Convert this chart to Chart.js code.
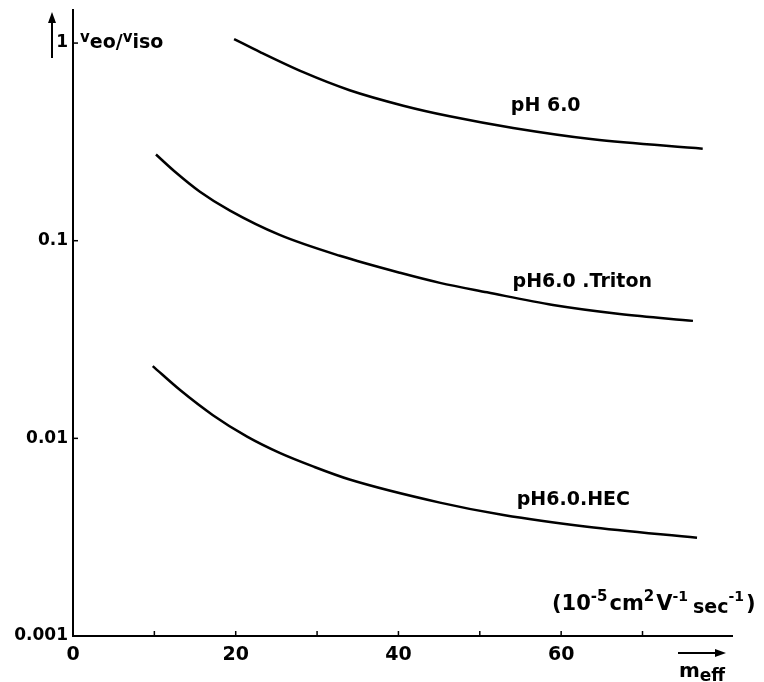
<!DOCTYPE html>
<html>
<head>
<meta charset="utf-8">
<script src="https://cdn.jsdelivr.net/npm/chart.js@4/dist/chart.umd.min.js"></script>
<style>
  body { margin: 0; background: #fff; }
  canvas { display: block; }
</style>
</head>
<body>
<canvas id="chart" width="764" height="682"></canvas>
<script>
// values (x = m_eff, y = v_eo/v_iso)
const xPH6 = [19.8, 23, 28.3, 34, 40.6, 46.3, 54.1, 63.9, 77.4];
const yPH6 = [1.048, 0.90, 0.712, 0.577, 0.482, 0.426, 0.372, 0.326, 0.292];

const xTriton = [10.2, 12.5, 15.6, 19.3, 25.4, 32.8, 40.2, 45.1, 50.9, 59, 67.2, 76.2];
const yTriton = [0.273, 0.224, 0.177, 0.142, 0.107, 0.0839, 0.0688, 0.0612, 0.0548, 0.0473, 0.0426, 0.0393];

const xHEC = [9.8, 13.2, 17.2, 21.4, 25.4, 29.5, 34, 45.1, 52.9, 63.2, 76.7];
const yHEC = [0.0232, 0.0175, 0.0131, 0.0102, 0.00844, 0.00721, 0.00619, 0.00473, 0.00409, 0.00357, 0.00314];

const curveNames = ["pH 6.0", "pH6.0 .Triton", "pH6.0.HEC"];

// tick values and labels
const xTickValues = [0, 10, 20, 30, 40, 50, 60, 70];
const xTickLabels = ["0", "", "20", "", "40", "", "60", ""];
const yTickValues = [0.001, 0.01, 0.1, 1];
const yTickLabels = ["0.001", "0.01", "0.1", "1"];

const FONT = '"DejaVu Sans", sans-serif';

function toPoints(xs, ys) {
  return xs.map((x, i) => ({ x: x, y: ys[i] }));
}

// draw a run of text pieces: [text, size, dy, gap]
function drawRich(ctx, x, y, parts) {
  parts.forEach(p => {
    ctx.font = "bold " + p[1] + "px " + FONT;
    ctx.fillText(p[0], x, y + p[2]);
    x += ctx.measureText(p[0]).width + (p[3] || 0);
  });
  return x;
}

function arrow(ctx, x1, y1, x2, y2) {
  const a = Math.atan2(y2 - y1, x2 - x1);
  ctx.beginPath();
  ctx.moveTo(x1, y1);
  ctx.lineTo(x2 - 8 * Math.cos(a), y2 - 8 * Math.sin(a));
  ctx.lineWidth = 2;
  ctx.stroke();
  ctx.beginPath();
  ctx.moveTo(x2, y2);
  ctx.lineTo(x2 - 11 * Math.cos(a) + 4 * Math.sin(a), y2 - 11 * Math.sin(a) - 4 * Math.cos(a));
  ctx.lineTo(x2 - 11 * Math.cos(a) - 4 * Math.sin(a), y2 - 11 * Math.sin(a) + 4 * Math.cos(a));
  ctx.closePath();
  ctx.fill();
}

const decorations = {
  id: "decorations",
  afterDraw(chart) {
    const ctx = chart.ctx;
    const xs = chart.scales.x;
    const ys = chart.scales.y;
    const area = chart.chartArea;
    ctx.save();
    ctx.fillStyle = "#000";
    ctx.strokeStyle = "#000";

    // small inward tick marks
    ctx.lineWidth = 1.5;
    xs.ticks.forEach(t => {
      if (t.value === 0) return;
      const px = xs.getPixelForValue(t.value);
      ctx.beginPath();
      ctx.moveTo(px, area.bottom);
      ctx.lineTo(px, area.bottom - 5);
      ctx.stroke();
    });
    ys.ticks.forEach(t => {
      const py = ys.getPixelForValue(t.value);
      ctx.beginPath();
      ctx.moveTo(area.left, py);
      ctx.lineTo(area.left + 5, py);
      ctx.stroke();
    });

    // curve labels
    ctx.textBaseline = "middle";
    ctx.textAlign = "center";
    chart.data.datasets.forEach(ds => {
      ctx.font = "bold 19px " + FONT;
      ctx.fillText(ds.label, xs.getPixelForValue(ds.labelX), ys.getPixelForValue(ds.labelY));
    });

    // y axis title v_eo / v_iso
    ctx.textAlign = "left";
    ctx.textBaseline = "alphabetic";
    const yb = ys.getPixelForValue(1) + 5;
    drawRich(ctx, area.left + 7, yb, [
      ["v", 15, -6], ["eo", 19, 0], ["/", 19, 0], ["v", 15, -6], ["iso", 19, 0]
    ]);

    // units
    drawRich(ctx, 552, 610, [
      ["(10", 21, 0], ["-5", 15, -9, 2], ["cm", 21, 0], ["2", 15, -9, 2], ["V", 21, 0],
      ["-1", 14, -9, 5], ["sec", 19, 3], ["-1", 14, -9, 2], [")", 21, 0]
    ]);

    // x axis name and arrow
    arrow(ctx, 678, 653, 726, 653);
    drawRich(ctx, 679, 677, [["m", 20, 0], ["eff", 17, 4]]);

    // y axis arrow
    arrow(ctx, 52, 58, 52, 12);
    ctx.restore();
  }
};

new Chart(document.getElementById("chart"), {
  type: "scatter",
  data: {
    datasets: [
      { label: curveNames[0], data: toPoints(xPH6, yPH6), labelX: 58.1, labelY: 0.479 },
      { label: curveNames[1], data: toPoints(xTriton, yTriton), labelX: 62.6, labelY: 0.0619 },
      { label: curveNames[2], data: toPoints(xHEC, yHEC), labelX: 61.5, labelY: 0.0049 }
    ].map(d => Object.assign(d, {
      showLine: true,
      borderColor: "#000",
      borderWidth: 2.5,
      pointRadius: 0,
      cubicInterpolationMode: "monotone"
    }))
  },
  options: {
    responsive: false,
    animation: false,
    layout: { padding: { left: 0, top: 10, right: 32, bottom: 0 } },
    plugins: { legend: { display: false }, tooltip: { enabled: false } },
    scales: {
      x: {
        type: "linear",
        min: 0,
        max: 81,
        afterBuildTicks: s => { s.ticks = xTickValues.map(v => ({ value: v })); },
        afterFit: s => { s.height = 46; },
        grid: { display: false },
        border: { display: true, color: "#000", width: 2 },
        ticks: {
          color: "#000",
          padding: 0,
          maxRotation: 0,
          autoSkip: false,
          font: { family: FONT, size: 19, weight: "bold" },
          callback: v => xTickLabels[xTickValues.indexOf(v)] || ""
        }
      },
      y: {
        type: "logarithmic",
        min: 0.001,
        max: 1.47,
        afterBuildTicks: s => { s.ticks = yTickValues.map(v => ({ value: v })); },
        afterFit: s => { s.width = 73; },
        grid: { display: false },
        border: { display: true, color: "#000", width: 2 },
        ticks: {
          color: "#000",
          padding: -3,
          autoSkip: false,
          font: { family: FONT, size: 17, weight: "bold" },
          callback: v => yTickLabels[yTickValues.indexOf(v)] || ""
        }
      }
    }
  },
  plugins: [decorations]
});
</script>
</body>
</html>
